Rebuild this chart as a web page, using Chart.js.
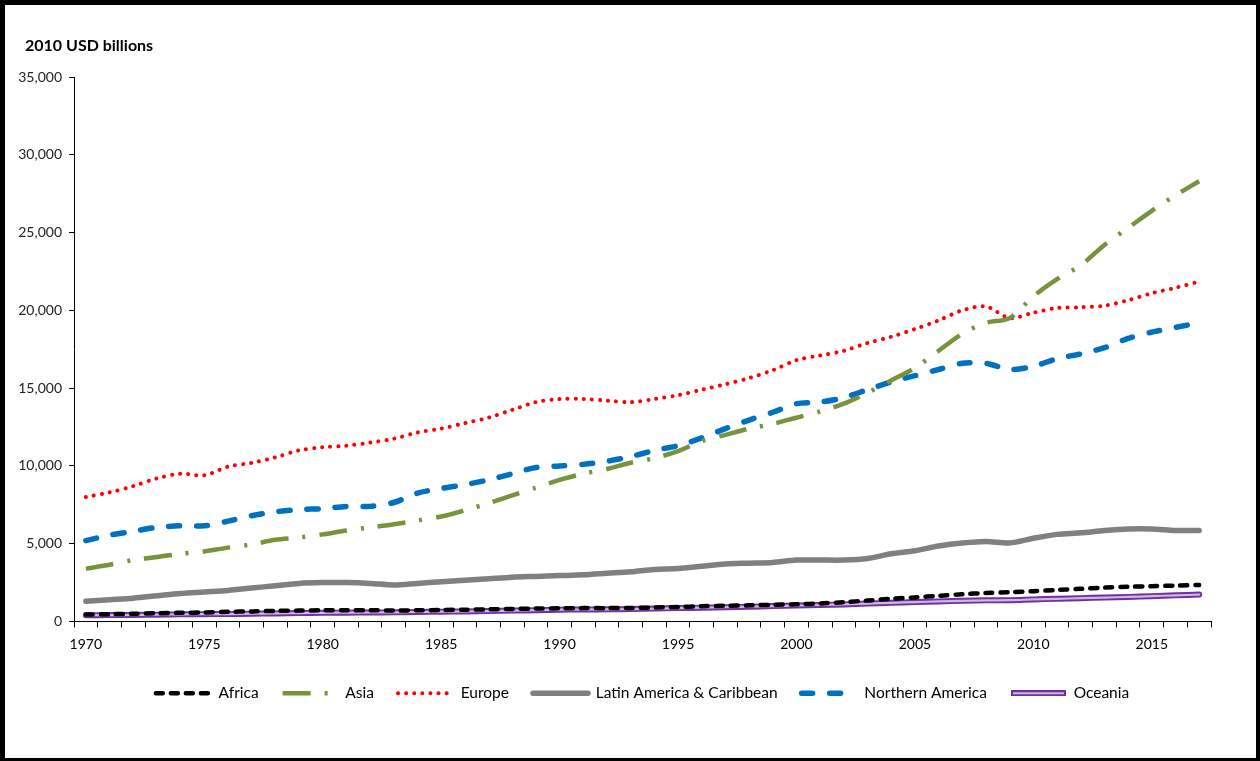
<!DOCTYPE html>
<html>
<head>
<meta charset="utf-8">
<script src="https://cdn.jsdelivr.net/npm/chart.js@4/dist/chart.umd.min.js"></script>
<style>
  html, body { margin: 0; padding: 0; background: #fff; }
  #wrap { position: relative; width: 1260px; height: 761px; }
</style>
</head>
<body>
<div id="wrap"><canvas id="gdpChart" width="1260" height="761"></canvas></div>
<script>
const FONT = "Lato, 'Open Sans', sans-serif";

const years = [];
for (let y = 1970; y <= 2017; y++) years.push(String(y));

const yTicks = [0, 5000, 10000, 15000, 20000, 25000, 30000, 35000];

const africa = [450, 470, 500, 530, 560, 580, 620, 650, 680, 700,
  720, 720, 720, 710, 720, 740, 760, 780, 810, 830,
  850, 860, 860, 870, 900, 930, 980, 1010, 1040, 1070,
  1110, 1160, 1240, 1350, 1460, 1550, 1650, 1750, 1830, 1880,
  1950, 2030, 2100, 2180, 2230, 2270, 2310, 2350];

const asia = [3400, 3650, 3950, 4150, 4350, 4500, 4750, 4950, 5250, 5400,
  5600, 5850, 6050, 6250, 6500, 6750, 7150, 7600, 8100, 8600,
  9100, 9500, 9800, 10200, 10500, 10950, 11600, 12000, 12400, 12700,
  13100, 13500, 14000, 14700, 15500, 16300, 17400, 18500, 19200, 19500,
  20900, 22000, 22900, 24200, 25300, 26400, 27400, 28300];

const europe = [8000, 8300, 8700, 9200, 9500, 9400, 9950, 10200, 10550, 11000,
  11200, 11300, 11500, 11750, 12150, 12400, 12750, 13100, 13600, 14100,
  14300, 14300, 14200, 14100, 14300, 14550, 14900, 15250, 15650, 16150,
  16800, 17100, 17400, 17900, 18300, 18800, 19350, 20000, 20250, 19500,
  19850, 20150, 20200, 20300, 20650, 21100, 21450, 21850];

const latinAmerica = [1300, 1400, 1500, 1650, 1800, 1900, 2000, 2150, 2300, 2450,
  2500, 2500, 2450, 2350, 2450, 2550, 2650, 2750, 2850, 2900,
  2950, 3000, 3100, 3200, 3350, 3400, 3550, 3700, 3750, 3800,
  3950, 3950, 3950, 4050, 4350, 4550, 4850, 5050, 5150, 5050,
  5350, 5600, 5700, 5850, 5950, 5950, 5850, 5850];

const northAmerica = [5200, 5550, 5800, 6050, 6150, 6150, 6450, 6800, 7050, 7200,
  7250, 7400, 7400, 7650, 8250, 8550, 8800, 9100, 9500, 9900,
  10000, 10100, 10300, 10600, 11000, 11300, 11800, 12400, 12950, 13450,
  14000, 14100, 14400, 14900, 15400, 15800, 16200, 16600, 16600, 16200,
  16400, 16900, 17200, 17600, 18200, 18600, 18900, 19200];

const oceania = [400, 410, 420, 440, 460, 470, 480, 500, 520, 540,
  560, 570, 580, 590, 610, 630, 650, 670, 700, 730,
  760, 770, 780, 800, 830, 860, 890, 920, 950, 990,
  1030, 1060, 1100, 1150, 1200, 1250, 1290, 1330, 1360, 1370,
  1420, 1460, 1500, 1540, 1580, 1630, 1680, 1730];

const PURPLE = "#7030A0";
const LAVENDER = "#CDB8E2";

function line(label, data, color, width, dash, cap) {
  return {
    label: label, data: data,
    borderColor: color, backgroundColor: color,
    borderWidth: width, borderDash: dash, borderCapStyle: cap,
    pointRadius: 0, pointHoverRadius: 0, tension: 0.3, fill: false
  };
}

const datasets = [
  line("Africa", africa, "#000000", 4.5, [7, 8], "round"),
  line("Asia", asia, "#77933C", 4.5, [28, 14, 3, 14], "butt"),
  line("Europe", europe, "#FF0000", 4, [0.1, 8], "round"),
  line("Latin America & Caribbean", latinAmerica, "#808080", 5.5, [], "round"),
  line("Northern America", northAmerica, "#0070C0", 5.5, [11, 17], "round"),
  line("", oceania, LAVENDER, 2.2, [], "round"),
  line("Oceania", oceania, PURPLE, 6, [], "round")
];

// double-line swatch for Oceania in the legend
const oceaniaSwatch = document.createElement("canvas");
oceaniaSwatch.width = 55; oceaniaSwatch.height = 6;
(function () {
  const c = oceaniaSwatch.getContext("2d");
  c.fillStyle = PURPLE; c.fillRect(0, 0, 55, 6);
  c.fillStyle = LAVENDER; c.fillRect(2, 2, 51, 2);
})();

const frame = {
  id: "frame",
  beforeDraw(chart) {
    const ctx = chart.ctx;
    ctx.save();
    ctx.fillStyle = "#fff";
    ctx.fillRect(0, 0, chart.width, chart.height);
    ctx.restore();
  },
  afterDraw(chart) {
    const ctx = chart.ctx;
    ctx.save();
    ctx.fillStyle = "#000";
    ctx.fillRect(0, 0, chart.width, 5);
    ctx.fillRect(0, 0, 5, chart.height);
    ctx.fillRect(chart.width - 4, 0, 4, chart.height);
    ctx.fillRect(0, chart.height - 3, chart.width, 3);
    ctx.font = "bold 16px " + FONT;
    ctx.textBaseline = "middle";
    ctx.fillText("2010 USD billions", 25, 46);
    ctx.restore();
  }
};

new Chart(document.getElementById("gdpChart"), {
  type: "line",
  data: { labels: years, datasets: datasets },
  plugins: [frame],
  options: {
    responsive: false,
    animation: false,
    layout: { padding: { top: 77, left: 0, right: 49, bottom: 50 } },
    plugins: {
      tooltip: { enabled: false },
      legend: {
        position: "bottom",
        fullSize: false,
        labels: {
          usePointStyle: true, pointStyle: "line", pointStyleWidth: 55,
          padding: 24, color: "#000",
          font: { family: FONT, size: 15.5 },
          filter: (item) => item.text !== "",
          generateLabels(chart) {
            const items = Chart.defaults.plugins.legend.labels.generateLabels(chart);
            items.forEach((it) => {
              const ds = chart.data.datasets[it.datasetIndex];
              it.lineDash = ds.borderDash;
              it.lineCap = ds.borderCapStyle;
              it.lineWidth = ds.borderWidth;
              it.strokeStyle = ds.borderColor;
              if (ds.label === "Oceania") it.pointStyle = oceaniaSwatch;
            });
            return items;
          }
        }
      }
    },
    scales: {
      x: {
        type: "category", offset: true,
        grid: { drawOnChartArea: false, offset: true, tickLength: 6, color: "#000" },
        border: { color: "#000", width: 1 },
        ticks: {
          autoSkip: false, maxRotation: 0, color: "#000", padding: 9,
          font: { family: FONT, size: 14 },
          callback: (v, i) => (Number(years[i]) % 5 === 0 ? years[i] : "")
        },
        afterFit: (s) => { s.height = 40; }
      },
      y: {
        min: 0, max: 35000,
        grid: { drawOnChartArea: false, tickLength: 5, color: "#000" },
        border: { color: "#000", width: 1 },
        afterBuildTicks: (s) => { s.ticks = yTicks.map((v) => ({ value: v })); },
        ticks: {
          color: "#222", padding: 7,
          font: { family: FONT, size: 14 },
          callback: (v) => v.toLocaleString("en-US")
        },
        afterFit: (s) => { s.width = 74; }
      }
    }
  }
});
</script>
</body>
</html>
